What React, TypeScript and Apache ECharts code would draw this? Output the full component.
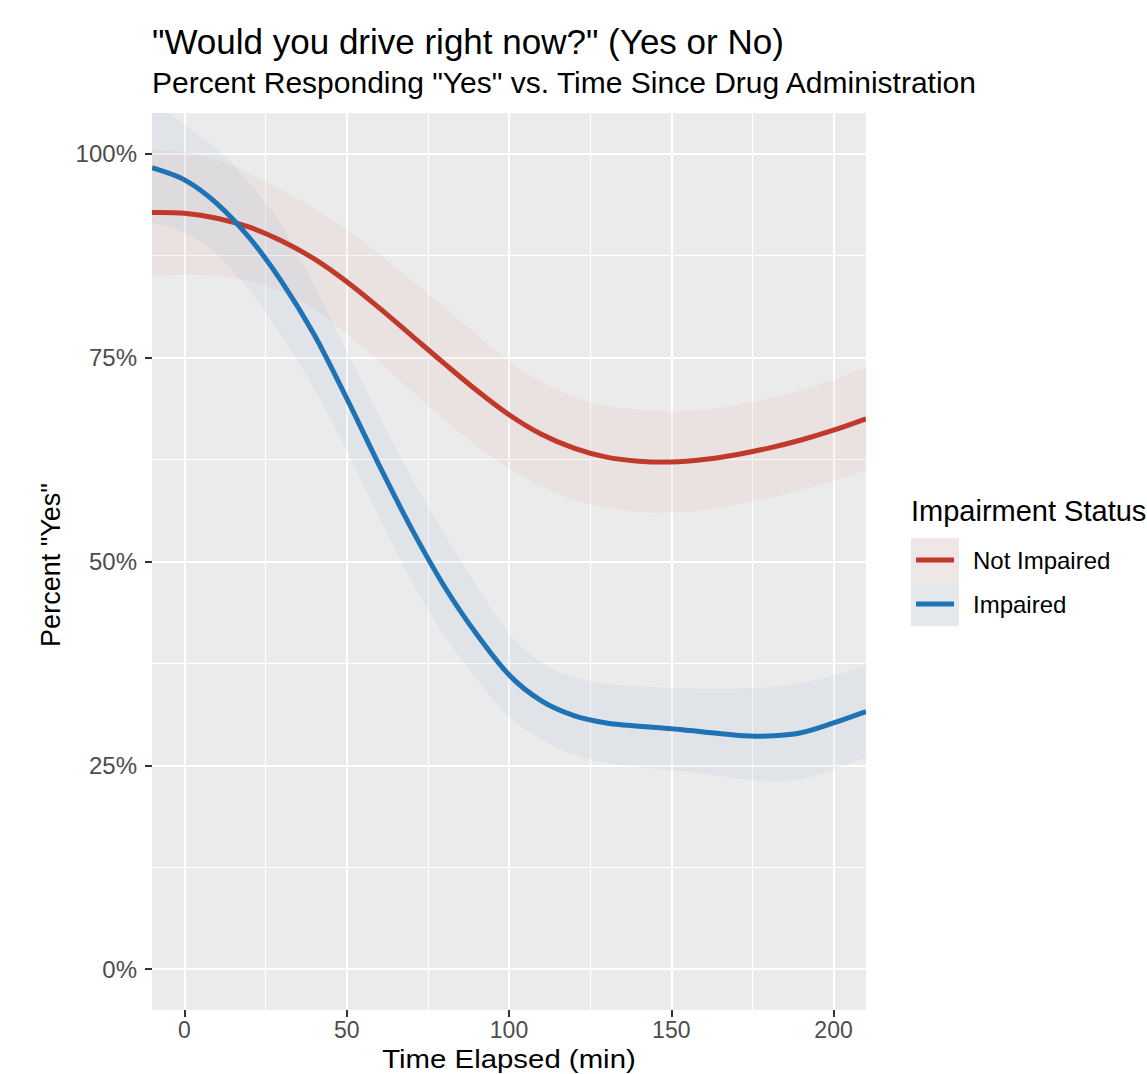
import React, { useEffect, useRef } from "react";
import * as echarts from "echarts";

// ---- data ----
const timeMin = [-10, 0, 10, 20, 30, 40, 50, 60, 70, 80, 90, 100, 110, 120, 130, 140, 150, 160, 170, 180, 190, 200, 210];

const notImpairedFit = [92.8, 92.7, 92.1, 91.0, 89.3, 87.1, 84.3, 81.1, 77.7, 74.3, 71.0, 68.0, 65.6, 63.9, 62.8, 62.3, 62.2, 62.5, 63.1, 63.9, 64.9, 66.1, 67.5];
const notImpairedUpper = [100.5, 100.2, 99.2, 97.6, 95.6, 93.3, 90.7, 87.7, 84.5, 81.2, 77.8, 74.6, 72.0, 70.2, 69.1, 68.6, 68.4, 68.6, 69.2, 70.0, 71.0, 72.3, 73.8];
const notImpairedLower = [85.0, 85.2, 85.0, 84.4, 83.0, 80.9, 77.9, 74.5, 70.9, 67.4, 64.2, 61.4, 59.2, 57.6, 56.6, 56.1, 56.0, 56.3, 57.0, 57.8, 58.8, 59.9, 61.2];

const impairedFit = [98.3, 96.8, 93.9, 89.7, 84.3, 77.8, 70.0, 61.8, 54.0, 47.0, 41.1, 36.1, 32.9, 31.1, 30.2, 29.8, 29.5, 29.1, 28.7, 28.6, 29.0, 30.2, 31.6];
const impairedUpper = [106.5, 103.5, 100.6, 96.5, 91.2, 83.8, 75.8, 67.8, 60.3, 53.4, 47.0, 41.2, 37.6, 35.8, 35.0, 34.7, 34.5, 34.4, 34.4, 34.6, 35.1, 36.0, 37.2];
const impairedLower = [91.6, 90.3, 87.6, 83.3, 77.6, 71.2, 63.6, 55.4, 47.6, 41.0, 35.6, 31.0, 28.2, 26.3, 25.3, 24.8, 24.4, 24.0, 23.4, 23.1, 23.3, 24.5, 26.0];

const groupNames = ["Not Impaired", "Impaired"];
const xTicks = [0, 50, 100, 150, 200];
const yTicks = [0, 25, 50, 75, 100];

const titleText = '"Would you drive right now?" (Yes or No)';
const subtitleText = 'Percent Responding "Yes" vs. Time Since Drug Administration';
const xTitle = "Time Elapsed (min)";
const yTitle = 'Percent "Yes"';
const legendTitle = "Impairment Status";

const FONT = '"Liberation Sans", Arial, Helvetica, sans-serif';
const RED = "#C0392B";
const BLUE = "#1F72B4";

type Pt = number[];

// Catmull-Rom spline through pixel points -> SVG path commands (without the initial M)
function splineSegments(pts: Pt[]): string {
  let d = "";
  for (let i = 0; i < pts.length - 1; i++) {
    const p0 = pts[Math.max(0, i - 1)];
    const p1 = pts[i];
    const p2 = pts[i + 1];
    const p3 = pts[Math.min(pts.length - 1, i + 2)];
    const c1x = p1[0] + (p2[0] - p0[0]) / 6;
    const c1y = p1[1] + (p2[1] - p0[1]) / 6;
    const c2x = p2[0] - (p3[0] - p1[0]) / 6;
    const c2y = p2[1] - (p3[1] - p1[1]) / 6;
    d += ` C ${c1x.toFixed(2)} ${c1y.toFixed(2)} ${c2x.toFixed(2)} ${c2y.toFixed(2)} ${p2[0].toFixed(2)} ${p2[1].toFixed(2)}`;
  }
  return d;
}

export default function App() {
  const ref = useRef<HTMLDivElement>(null);

  useEffect(() => {
    if (!ref.current) return;
    const chart = echarts.init(ref.current, null, { renderer: "svg" });

    const bandSeries = (lo: number[], up: number[], color: string, z: number) => ({
      type: "custom",
      coordinateSystem: "cartesian2d",
      clip: true,
      silent: true,
      z,
      data: [[timeMin[0], lo[0]]],
      renderItem: (_params: any, api: any) => {
        const top = timeMin.map((t, i) => api.coord([t, up[i]]));
        const bottom = timeMin.map((t, i) => api.coord([t, lo[i]])).reverse();
        const d =
          `M ${top[0][0]} ${top[0][1]}` +
          splineSegments(top) +
          ` L ${bottom[0][0]} ${bottom[0][1]}` +
          splineSegments(bottom) +
          " Z";
        return { type: "path", shape: { pathData: d }, style: { fill: color, stroke: "none" } };
      },
    });

    const fitSeries = (name: string, ys: number[], color: string, z: number) => ({
      type: "custom",
      name,
      coordinateSystem: "cartesian2d",
      clip: true,
      silent: true,
      z,
      data: [[timeMin[0], ys[0]]],
      renderItem: (_params: any, api: any) => {
        const pts = timeMin.map((t, i) => api.coord([t, ys[i]]));
        const d = `M ${pts[0][0]} ${pts[0][1]}` + splineSegments(pts);
        return {
          type: "path",
          shape: { pathData: d },
          style: { fill: "none", stroke: color, lineWidth: 5, lineCap: "butt", lineJoin: "round" },
        };
      },
    });

    const axisCommon = {
      type: "value",
      splitNumber: 5,
      axisLine: { show: false, onZero: false },
      splitLine: { show: true, lineStyle: { color: "#FFFFFF", width: 2 } },
      minorTick: { show: false, splitNumber: 2 },
      minorSplitLine: { show: true, lineStyle: { color: "#FFFFFF", width: 1 } },
    };

    const option: any = {
      animation: false,
      backgroundColor: "#FFFFFF",
      grid: {
        left: 152,
        top: 113,
        right: 1147 - 866,
        bottom: 1074 - 1010,
        show: true,
        backgroundColor: "#EBEBEB",
        borderWidth: 0,
        containLabel: false,
        outerBoundsMode: "none",
      },
      xAxis: {
        ...axisCommon,
        min: -10,
        max: 210,
        minInterval: 50,
        maxInterval: 50,
        axisTick: { show: true, length: 7, lineStyle: { color: "#333333", width: 2 }, customValues: xTicks },
        axisLabel: {
          customValues: xTicks,
          color: "#4D4D4D",
          fontSize: 23,
          fontFamily: FONT,
          margin: 8,
        },
      },
      yAxis: {
        ...axisCommon,
        min: -5,
        max: 105,
        minInterval: 25,
        maxInterval: 25,
        axisTick: { show: true, length: 7, lineStyle: { color: "#333333", width: 2 }, customValues: yTicks },
        axisLabel: {
          customValues: yTicks,
          formatter: (v: number) => `${v}%`,
          color: "#4D4D4D",
          fontSize: 24,
          fontFamily: FONT,
          margin: 15,
        },
      },
      series: [
        bandSeries(notImpairedLower, notImpairedUpper, "rgba(192,57,43,0.05)", 1),
        bandSeries(impairedLower, impairedUpper, "rgba(31,114,180,0.055)", 1),
        fitSeries(groupNames[0], notImpairedFit, RED, 3),
        fitSeries(groupNames[1], impairedFit, BLUE, 4),
      ],
      graphic: [
        {
          type: "text",
          x: 152,
          y: 41,
          style: { text: titleText, fontSize: 35, fontFamily: FONT, fill: "#000000", align: "left", verticalAlign: "middle" },
        },
        {
          type: "text",
          x: 152,
          y: 82,
          style: { text: subtitleText, fontSize: 30, fontFamily: FONT, fill: "#000000", align: "left", verticalAlign: "middle" },
        },
        {
          type: "text",
          x: 509,
          y: 1059,
          scaleX: 1.13,
          style: { text: xTitle, fontSize: 26, fontFamily: FONT, fill: "#000000", align: "center", verticalAlign: "middle" },
        },
        {
          type: "text",
          x: 51,
          y: 565,
          rotation: Math.PI / 2,
          style: { text: yTitle, fontSize: 27, fontFamily: FONT, fill: "#000000", align: "center", verticalAlign: "middle" },
        },
        {
          type: "text",
          x: 911,
          y: 511,
          style: { text: legendTitle, fontSize: 29, fontFamily: FONT, fill: "#000000", align: "left", verticalAlign: "middle" },
        },
        { type: "rect", shape: { x: 911, y: 538, width: 48, height: 44 }, style: { fill: "#EEE7E6" } },
        { type: "rect", shape: { x: 911, y: 582, width: 48, height: 44 }, style: { fill: "#E5E9EC" } },
        { type: "line", shape: { x1: 916, y1: 560, x2: 954, y2: 560 }, style: { stroke: RED, lineWidth: 5 } },
        { type: "line", shape: { x1: 916, y1: 604, x2: 954, y2: 604 }, style: { stroke: BLUE, lineWidth: 5 } },
        {
          type: "text",
          x: 973,
          y: 560,
          style: { text: groupNames[0], fontSize: 24, fontFamily: FONT, fill: "#000000", align: "left", verticalAlign: "middle" },
        },
        {
          type: "text",
          x: 973,
          y: 604,
          style: { text: groupNames[1], fontSize: 24, fontFamily: FONT, fill: "#000000", align: "left", verticalAlign: "middle" },
        },
      ],
    };

    chart.setOption(option);
    return () => chart.dispose();
  }, []);

  return (
    <div
      ref={ref}
      style={{ position: "fixed", left: 0, top: 0, width: 1147, height: 1074 }}
    />
  );
}
